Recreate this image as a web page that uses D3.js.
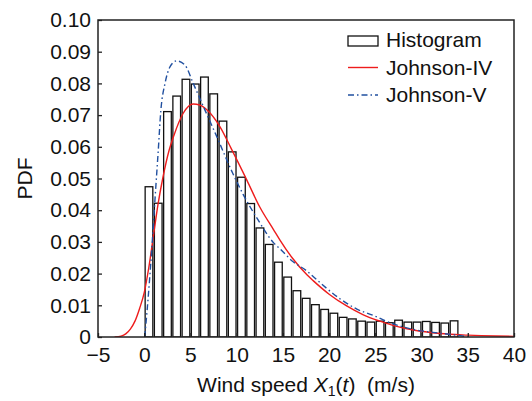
<!DOCTYPE html>
<html>
<head>
<meta charset="utf-8">
<script src="https://cdn.jsdelivr.net/npm/d3@7"></script>
<style>
  body { margin: 0; background: #fff; }
  text { font-family: "Liberation Sans", Arial, sans-serif; fill: #111; }
</style>
</head>
<body>
<svg id="chart"></svg>
<script>
const width = 532;
const height = 401;

// histogram: bin start (m/s) and density
const binStarts = d3.range(0, 34);
const binValues = [
  0.0474, 0.0422, 0.0711, 0.0760, 0.0813, 0.0798, 0.0820, 0.0767, 0.0681, 0.0584,
  0.0504, 0.0421, 0.0344, 0.0292, 0.0236, 0.0189, 0.0146, 0.0122, 0.0102, 0.0087,
  0.0075, 0.0062, 0.0057, 0.0050, 0.0047, 0.0050, 0.0045, 0.0053, 0.0047, 0.0047,
  0.0049, 0.0046, 0.0044, 0.0051
];

// Johnson-IV curve
const johnson4X = [-3.2, -2.5, -2, -1.5, -1, -0.5, 0, 0.5, 1, 1.5, 2, 2.7, 3.2, 4.2, 5.3, 6, 6.8, 8.2, 9.4,
  11.1, 12.5, 14, 14.7, 16, 17.6, 18.3, 20, 21.9, 23.7, 25.5, 27, 29.1, 32, 35, 38, 40];
const johnson4Y = [0, 0.0003, 0.001, 0.0025, 0.005, 0.009, 0.014, 0.022, 0.032, 0.042, 0.050, 0.059, 0.0635,
  0.0705, 0.0735, 0.0732, 0.0716, 0.0663, 0.0595, 0.0495, 0.041, 0.0338, 0.0305, 0.025, 0.0196, 0.0177,
  0.0135, 0.0098, 0.0070, 0.0050, 0.0036, 0.0022, 0.0011, 0.0006, 0.0003, 0.0002];

// Johnson-V curve
const johnson5X = [0.05, 0.3, 0.8, 1.2, 1.5, 1.8, 2.25, 2.8, 3.5, 4.4, 5.3, 6.4, 7.85, 9.6, 10.7, 12.3, 14,
  14.7, 16, 17.6, 18.3, 21.2, 23, 24.8, 26.6, 29.1, 32, 34, 35];
const johnson5Y = [0, 0.008, 0.027, 0.045, 0.058, 0.0715, 0.080, 0.0853, 0.0871, 0.0858, 0.080, 0.0727,
  0.0632, 0.0515, 0.045, 0.037, 0.0297, 0.0278, 0.024, 0.0208, 0.019, 0.012, 0.0088, 0.0068, 0.0045,
  0.0024, 0.0012, 0.0005, 0.0001];

const xTicks = d3.range(-5, 41, 5);
const yTicks = d3.range(0, 11).map(d => d / 100);

const fontSize = 21;

const svg = d3.select('#chart')
    .attr('width', width)
    .attr('height', height);

const x = d3.scaleLinear().domain([-5, 40]).range([98, 514]);
const y = d3.scaleLinear().domain([0, 0.1]).range([337, 20]);

svg.append('clipPath').attr('id', 'plot')
  .append('rect')
    .attr('x', x(-5)).attr('y', y(0.1))
    .attr('width', x(40) - x(-5)).attr('height', y(0) - y(0.1));

const plot = svg.append('g').attr('clip-path', 'url(#plot)');

// bars
plot.selectAll('.bar')
  .data(binStarts)
  .enter().append('rect')
    .attr('class', 'bar')
    .attr('x', d => x(d + 0.1))
    .attr('width', x(0.93) - x(0.1))
    .attr('y', (d, i) => y(binValues[i]))
    .attr('height', (d, i) => y(0) - y(binValues[i]))
    .attr('fill', '#fff')
    .attr('stroke', '#111')
    .attr('stroke-width', 1.3);

const line = d3.line()
    .x(d => x(d[0]))
    .y(d => y(d[1]))
    .curve(d3.curveMonotoneX);

plot.append('path')
    .datum(johnson4X.map((v, i) => [v, johnson4Y[i]]))
    .attr('d', line)
    .attr('fill', 'none')
    .attr('stroke', '#ee1c1c')
    .attr('stroke-width', 1.4);

plot.append('path')
    .datum(johnson5X.map((v, i) => [v, johnson5Y[i]]))
    .attr('d', line)
    .attr('fill', 'none')
    .attr('stroke', '#2150a0')
    .attr('stroke-width', 1.4)
    .attr('stroke-dasharray', '6,3,1.5,3');

// axes
const xAxis = svg.append('g')
    .attr('transform', `translate(0,${y(0)})`)
    .call(d3.axisBottom(x).tickValues(xTicks).tickSize(-4).tickSizeOuter(0).tickPadding(10)
      .tickFormat(d => d < 0 ? '\u2212' + Math.abs(d) : d));

const yAxis = svg.append('g')
    .attr('transform', `translate(${x(-5)},0)`)
    .call(d3.axisLeft(y).tickValues(yTicks).tickSize(-4).tickSizeOuter(0).tickPadding(7)
      .tickFormat(d => d === 0 ? '0' : d.toFixed(2)));

[xAxis, yAxis].forEach(g => {
  g.select('.domain').remove();
  g.selectAll('line').attr('stroke', '#222').attr('stroke-width', 1.3);
  g.selectAll('text').attr('font-size', fontSize).attr('fill', '#111')
    .style('font-family', '"Liberation Sans", Arial, sans-serif');
});

// frame
svg.append('rect')
    .attr('x', x(-5)).attr('y', y(0.1))
    .attr('width', x(40) - x(-5)).attr('height', y(0) - y(0.1))
    .attr('fill', 'none')
    .attr('stroke', '#222')
    .attr('stroke-width', 1.5);

// axis titles
const xTitle = svg.append('text')
    .attr('x', (x(-5) + x(40)) / 2)
    .attr('y', 392)
    .attr('text-anchor', 'middle')
    .attr('font-size', fontSize);
xTitle.append('tspan').text('Wind speed ');
xTitle.append('tspan').attr('font-style', 'italic').text('X');
xTitle.append('tspan').attr('font-size', 14).attr('dy', 4).text('1');
xTitle.append('tspan').attr('dy', -4).text('(');
xTitle.append('tspan').attr('font-style', 'italic').text('t');
xTitle.append('tspan').text(')\u00a0\u00a0(m/s)');

svg.append('text')
    .attr('transform', `translate(32,${(y(0) + y(0.1)) / 2}) rotate(-90)`)
    .attr('text-anchor', 'middle')
    .attr('font-size', fontSize)
    .text('PDF');

// legend
const legend = svg.append('g');
const lx = 348;
const lw = 30;

legend.append('rect')
    .attr('x', lx).attr('y', 36).attr('width', lw).attr('height', 10)
    .attr('fill', '#fff').attr('stroke', '#111').attr('stroke-width', 1.3);
legend.append('line')
    .attr('x1', lx).attr('x2', lx + lw).attr('y1', 67.5).attr('y2', 67.5)
    .attr('stroke', '#ee1c1c').attr('stroke-width', 1.4);
legend.append('line')
    .attr('x1', lx).attr('x2', lx + lw).attr('y1', 95).attr('y2', 95)
    .attr('stroke', '#2150a0').attr('stroke-width', 1.4)
    .attr('stroke-dasharray', '6,3,1.5,3');

const labels = ['Histogram', 'Johnson-IV', 'Johnson-V'];
legend.selectAll('.lab')
  .data(labels)
  .enter().append('text')
    .attr('class', 'lab')
    .attr('x', 386)
    .attr('y', (d, i) => 47 + i * 27.5)
    .attr('font-size', fontSize)
    .text(d => d);
</script>
</body>
</html>
